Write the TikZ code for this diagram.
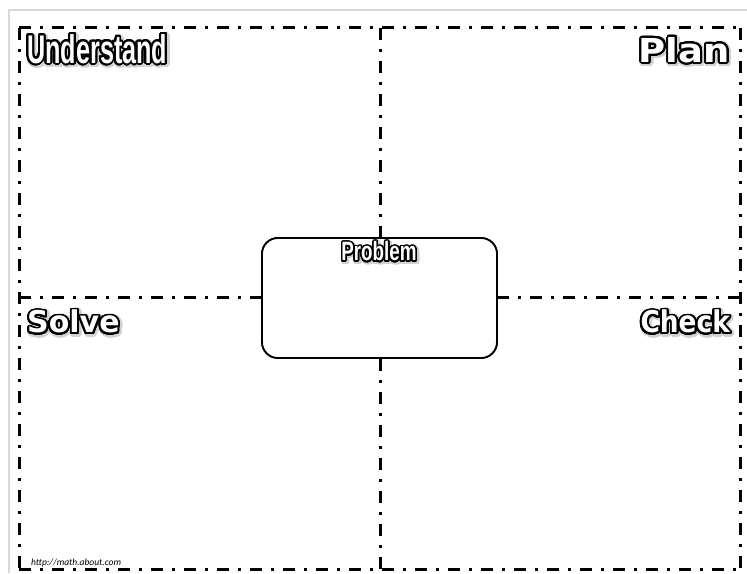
\documentclass[tikz,border=0pt]{standalone}
\usepackage{fontspec}
\usepackage{graphicx}
\usepackage[copies]{contour}
\setmainfont{Liberation Sans}
\newfontfamily\wideface{DejaVu Sans}
\newfontfamily\noteface{Carlito}
\contournumber{32}

% white letters with a black outline over a faint grey shadow
\newcommand\hollowword[3]{%
  \makebox[0pt][l]{\raisebox{-1.2pt}{\hspace*{1.2pt}\contourlength{#2}\contour{black!18}{\color{black!18}#3}}}%
  \contourlength{#1}\contour{black}{#3}}

\begin{document}
\begin{tikzpicture}[x=1pt,y=1pt,
  frameline/.style={line width=3pt, dash pattern=on 12pt off 9pt on 3pt off 9pt},
  pageedge/.style={line width=2pt, draw=black!15},
  problembox/.style={draw, line width=1.8pt, rounded corners=16pt, fill=white,
    minimum width=235pt, minimum height=120pt, inner sep=0pt},
  hollow/.style={text=white, inner sep=0pt},
  note/.style={inner sep=0pt, font=\noteface\itshape\fontsize{9.5}{10}\selectfont}]
\useasboundingbox (0,0) rectangle (747,573);

% edge of the page
\coordinate (pgbot) at (9,0);
\coordinate (pgcorner) at (9,563);
\coordinate (pgright) at (747,563);
\draw[pageedge] (pgbot) -- (pgcorner) -- (pgright);

% outer frame and the two dividing lines
\coordinate (tl) at (19,545);
\coordinate (tr) at (740,545);
\coordinate (bl) at (19,4);
\coordinate (br) at (740,4);
\coordinate (tm) at (380,545);
\coordinate (bm) at (380,4);
\coordinate (lm) at (19,275);
\coordinate (rm) at (740,275);

\draw[frameline] (tl) -- (tr);
\draw[frameline] (tl) -- (bl);
\draw[frameline] (bl) -- (br);
\draw[frameline] (tr) -- (br);

\node[problembox] (problem) at (379.5,275) {};

\draw[frameline] (tm) -- (problem.north -| tm);
\draw[frameline] (bm) -- (problem.south -| bm);
\draw[frameline] (lm) -- (problem.west);
\draw[frameline] (rm) -- (problem.east);
\node[problembox] (problemfront) at (problem.center) {};

% headings
\node[hollow, anchor=north west] (understand) at (27,539)
  {\hollowword{1.9pt}{3.2pt}{\scalebox{0.63}[1]{\fontsize{40}{40}\selectfont\bfseries Understand}}};
\node[hollow, anchor=north east] (plan) at (730,536)
  {\hollowword{1.9pt}{3.2pt}{\scalebox{1.12}[1]{\wideface\fontsize{33}{33}\selectfont\bfseries Plan}}};
\node[hollow, anchor=north west] (solve) at (27,263)
  {\hollowword{1.9pt}{3.2pt}{\scalebox{1.0}[1]{\wideface\fontsize{30}{30}\selectfont\bfseries Solve}}};
\node[hollow, anchor=north east] (check) at (730,263)
  {\hollowword{1.9pt}{3.2pt}{\scalebox{0.88}[1]{\wideface\fontsize{30}{30}\selectfont\bfseries Check}}};
\node[hollow, anchor=north] (problemtitle) at (379,331.5)
  {\hollowword{1.5pt}{2.7pt}{\scalebox{0.71}[1]{\fontsize{26.5}{26.5}\selectfont\bfseries Problem}}};

\node[note, anchor=base west] (source) at (31,8) {http://math.about.com};
\end{tikzpicture}
\end{document}
